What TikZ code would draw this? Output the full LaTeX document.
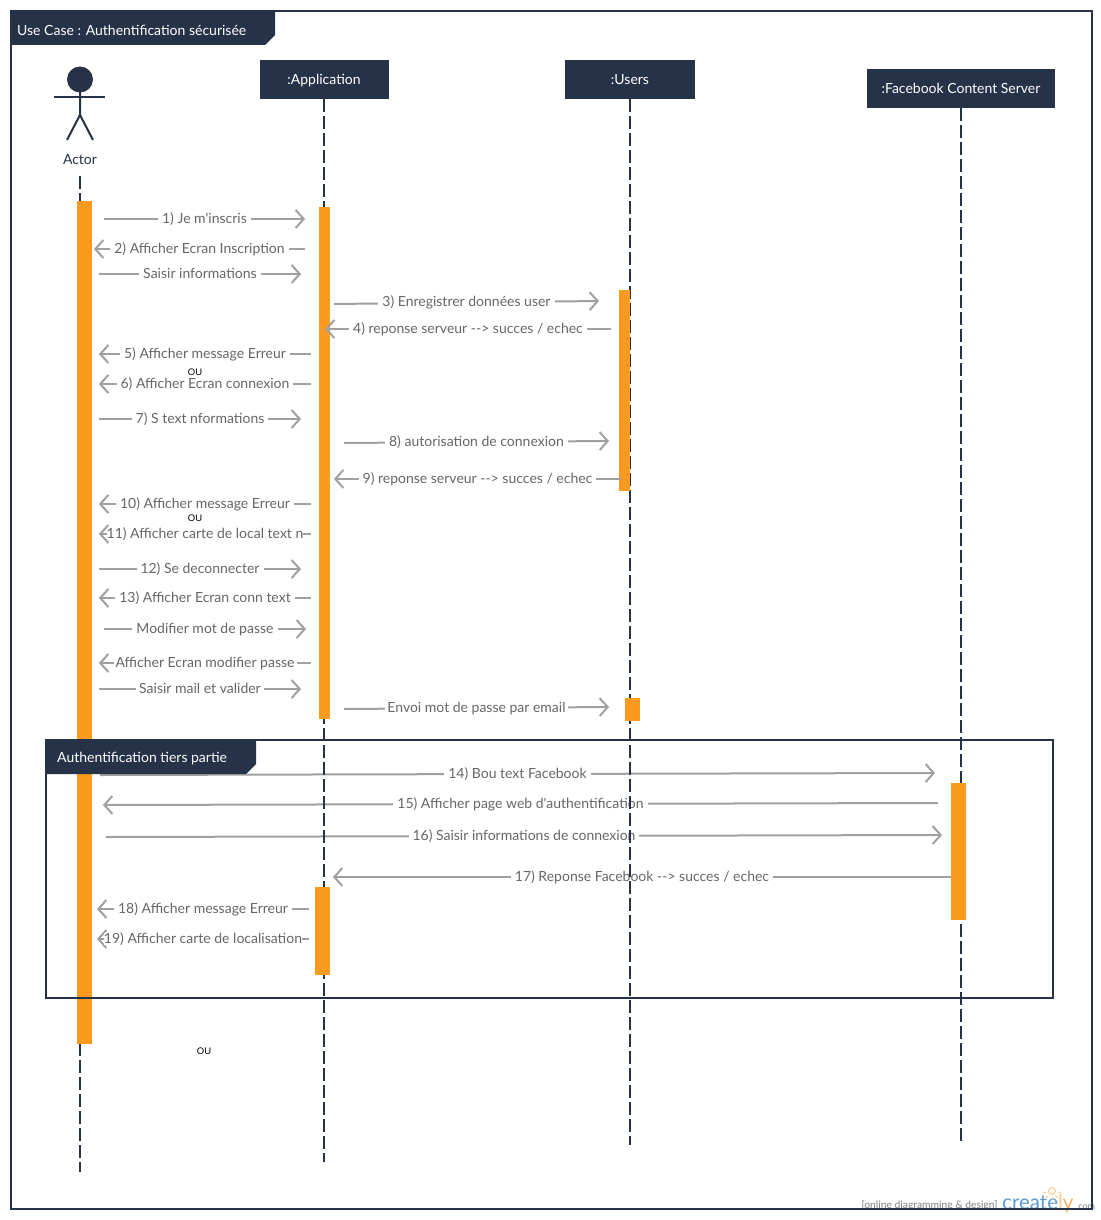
\documentclass[tikz,border=0pt]{standalone}
\usepackage{xcolor}
\usepackage{fontspec}
\usepackage{tikz}
\usetikzlibrary{arrows.meta,positioning}
\newfontfamily\latofont{Lato}
\newfontfamily\plainfont{Liberation Sans}
\definecolor{navy}{HTML}{263248}
\definecolor{barorange}{HTML}{FB9A1E}
\definecolor{msggrey}{HTML}{A0A0A0}
\definecolor{msgtextgrey}{HTML}{666666}
\definecolor{wmblue}{HTML}{5B9BD5}
\definecolor{wmorange}{HTML}{F9B25C}
\tikzset{
  every node/.style={font=\latofont\fontsize{14}{16}\selectfont},
  header/.style={fill=navy, text=white, inner sep=0pt, minimum height=39pt, text height=10pt, text depth=0pt},
  bar/.style={fill=barorange, inner sep=0pt, minimum width=15pt},
  lifeline/.style={draw=navy, line width=2pt, dash pattern=on 13pt off 4pt},
  msg/.style={draw=msggrey, line width=2pt, -{Straight Barb[length=8pt,width=18pt]}},
  msgtext/.style={fill=white, text=msgtextgrey, inner xsep=4pt, inner ysep=0pt, text height=10pt, text depth=2pt},
  frameline/.style={draw=navy, line width=2pt},
  tabtext/.style={text=white, anchor=west, inner sep=0pt, text height=10pt, text depth=2pt},
  ortext/.style={font=\plainfont\fontsize{9.5}{11}\selectfont, text=black, inner sep=0pt}
}
\begin{document}
\begin{tikzpicture}[x=1pt, y=-1pt]
\useasboundingbox (0,0) rectangle (1100,1220);
\fill[white] (0,0) rectangle (1100,1220);

% Watermark
\node[font=\latofont\fontsize{10.3}{12}\selectfont, text=gray, inner sep=0pt] (wmtext) at (929.5,1205) {[online diagramming \& design]};
\node[font=\latofont\fontsize{20.5}{24}\selectfont, text=wmblue, anchor=base west, inner sep=0pt] (wmname) at (1002,1209) {create\textcolor{wmorange!70}{l}\textcolor{wmorange}{y}};
\node[font=\latofont\fontsize{9}{10}\selectfont, text=gray, anchor=base west, inner sep=0pt] (wmcom) at (1076,1209) {.com};
\draw[wmorange!70, line width=1pt] (1052,1191) circle (3.5);
\foreach \ang in {-170,-130,-90,-50,-10} {
  \draw[wmorange!70, line width=1pt] (1052,1191) ++(\ang:-6) -- ++(\ang:-3);
}

% Nodes
\node[text=navy, inner sep=0pt] (actor) at (80,160) {Actor};
\node[header, minimum width=129pt] (app) at (324,79.5) {:Application};
\node[header, minimum width=130pt] (users) at (630,79.5) {:Users};
\node[header, minimum width=188pt] (fb) at (961,88.5) {:Facebook Content Server};

% Stick figure
\fill[navy] (80,79.5) circle (13);
\draw[navy, line width=2pt] (54,97) -- (105,97);
\draw[navy, line width=2pt] (80,90) -- (80,115) -- (67,140);
\draw[navy, line width=2pt] (80,115) -- (93,140);

\coordinate (actortop) at (80,176);
\coordinate (actorend) at (80,1172);
\coordinate (append) at (324,1162);
\coordinate (usersend) at (630,1145);
\coordinate (fbend) at (961,1144);

% Messages
\coordinate (m1a) at (104,219); \coordinate (m1b) at (305,219);
\draw[msg] (m1a) -- node[msgtext] (m1t) {1) Je m'inscris} (m1b);
\coordinate (m2a) at (305,249); \coordinate (m2b) at (94,249);
\draw[msg] (m2a) -- node[msgtext] (m2t) {2) Afficher Ecran Inscription} (m2b);
\coordinate (m2ba) at (99,274); \coordinate (m2bb) at (301,274);
\draw[msg] (m2ba) -- node[msgtext] (m2bt) {Saisir informations} (m2bb);
\coordinate (m3a) at (334,304); \coordinate (m3b) at (599,301);
\draw[msg] (m3a) -- node[msgtext] (m3t) {3) Enregistrer données user} (m3b);
\coordinate (m5a) at (311,354); \coordinate (m5b) at (99,354);
\draw[msg] (m5a) -- node[msgtext] (m5t) {5) Afficher message Erreur} (m5b);
\coordinate (m6a) at (311,384); \coordinate (m6b) at (99,384);
\draw[msg] (m6a) -- node[msgtext] (m6t) {6) Afficher Ecran connexion} (m6b);
\coordinate (m7a) at (99,419); \coordinate (m7b) at (301,419);
\draw[msg] (m7a) -- node[msgtext] (m7t) {7) S text nformations} (m7b);
\coordinate (m8a) at (344,443); \coordinate (m8b) at (609,441);
\draw[msg] (m8a) -- node[msgtext] (m8t) {8) autorisation de connexion} (m8b);
\coordinate (m10a) at (311,504); \coordinate (m10b) at (99,504);
\draw[msg] (m10a) -- node[msgtext] (m10t) {10) Afficher message Erreur} (m10b);
\coordinate (m11a) at (311,534); \coordinate (m11b) at (99,534);
\draw[msg] (m11a) -- node[msgtext, inner xsep=0pt] (m11t) {11) Afficher carte de local text n} (m11b);
\coordinate (m12a) at (99,569); \coordinate (m12b) at (301,569);
\draw[msg] (m12a) -- node[msgtext] (m12t) {12) Se deconnecter} (m12b);
\coordinate (m13a) at (311,598); \coordinate (m13b) at (99,598);
\draw[msg] (m13a) -- node[msgtext] (m13t) {13) Afficher Ecran conn text} (m13b);
\coordinate (m13ba) at (104,629); \coordinate (m13bb) at (306,629);
\draw[msg] (m13ba) -- node[msgtext] (m13bt) {Modifier mot de passe} (m13bb);
\coordinate (m13ca) at (311,663); \coordinate (m13cb) at (99,663);
\draw[msg] (m13ca) -- node[msgtext, inner xsep=2pt] (m13ct) {Afficher Ecran modifier passe} (m13cb);
\coordinate (m13da) at (99,689); \coordinate (m13db) at (301,689);
\draw[msg] (m13da) -- node[msgtext, inner xsep=3pt] (m13dt) {Saisir mail et valider} (m13db);
\coordinate (m13ea) at (344,709); \coordinate (m13eb) at (609,707);
\draw[msg] (m13ea) -- node[msgtext, inner xsep=2pt] (m13et) {Envoi mot de passe par email} (m13eb);
\coordinate (m14a) at (100,775); \coordinate (m14b) at (935,773);
\draw[msg] (m14a) -- node[msgtext] (m14t) {14) Bou text Facebook} (m14b);
\coordinate (m15a) at (938,803); \coordinate (m15b) at (103,805);
\draw[msg] (m15a) -- node[msgtext] (m15t) {15) Afficher page web d'authentification} (m15b);
\coordinate (m16a) at (106,837); \coordinate (m16b) at (942,835);
\draw[msg] (m16a) -- node[msgtext] (m16t) {16) Saisir informations de connexion} (m16b);
\coordinate (m17a) at (951,877); \coordinate (m17b) at (333,877);
\draw[msg] (m17a) -- node[msgtext] (m17t) {17) Reponse Facebook --> succes / echec} (m17b);
\coordinate (m18a) at (309,909); \coordinate (m18b) at (97,909);
\draw[msg] (m18a) -- node[msgtext] (m18t) {18) Afficher message Erreur} (m18b);
\coordinate (m19a) at (309,939); \coordinate (m19b) at (97,939);
\draw[msg] (m19a) -- node[msgtext, inner xsep=0pt] (m19t) {19) Afficher carte de localisation} (m19b);

% Lifelines
\draw[lifeline] (actortop) -- (actorend);
\draw[lifeline] (app.south) -- (append);
\draw[lifeline] (users.south) -- (usersend);
\draw[lifeline] (fb.south) -- (fbend);

% Activation bars
\node[bar, minimum height=843pt] (actorbar) at (84.5,622.5) {};
\node[bar, minimum width=11pt, minimum height=512pt] (appbar) at (324.5,463) {};
\node[bar, minimum height=88pt] (appbartwo) at (322.5,931) {};
\node[bar, minimum width=11pt, minimum height=201pt] (usersbar) at (624.5,390.5) {};
\node[bar, minimum height=23pt] (usersbartwo) at (632.5,709.5) {};
\node[bar, minimum height=137pt] (fbbar) at (958.5,851.5) {};

% Messages over the bars
\coordinate (m4a) at (611,329); \coordinate (m4b) at (325,329);
\draw[msg] (m4a) -- node[msgtext] (m4t) {4) reponse serveur --> succes / echec} (m4b);
\coordinate (m9a) at (621,479); \coordinate (m9b) at (334,479);
\draw[msg] (m9a) -- node[msgtext] (m9t) {9) reponse serveur --> succes / echec} (m9b);

% ou labels
\node[ortext] (orone) at (195,372) {OU};
\node[ortext] (ortwo) at (195,518) {OU};
\node[ortext] (orthree) at (204,1051) {OU};

% Frames
\draw[frameline] (11,11) rectangle (1092,1209);
\fill[navy] (11,11) -- (275,11) -- (275,35) -- (265,45) -- (11,45) -- cycle;
\node[tabtext] (maintab) at (17,31.5) {Use Case : Authentification sécurisée};
\draw[frameline] (46,740) rectangle (1053,998);
\fill[navy] (46,740) -- (256,740) -- (256,764) -- (246,774) -- (46,774) -- cycle;
\node[tabtext] (subtab) at (57,758) {Authentification tiers partie};
\end{tikzpicture}
\end{document}
